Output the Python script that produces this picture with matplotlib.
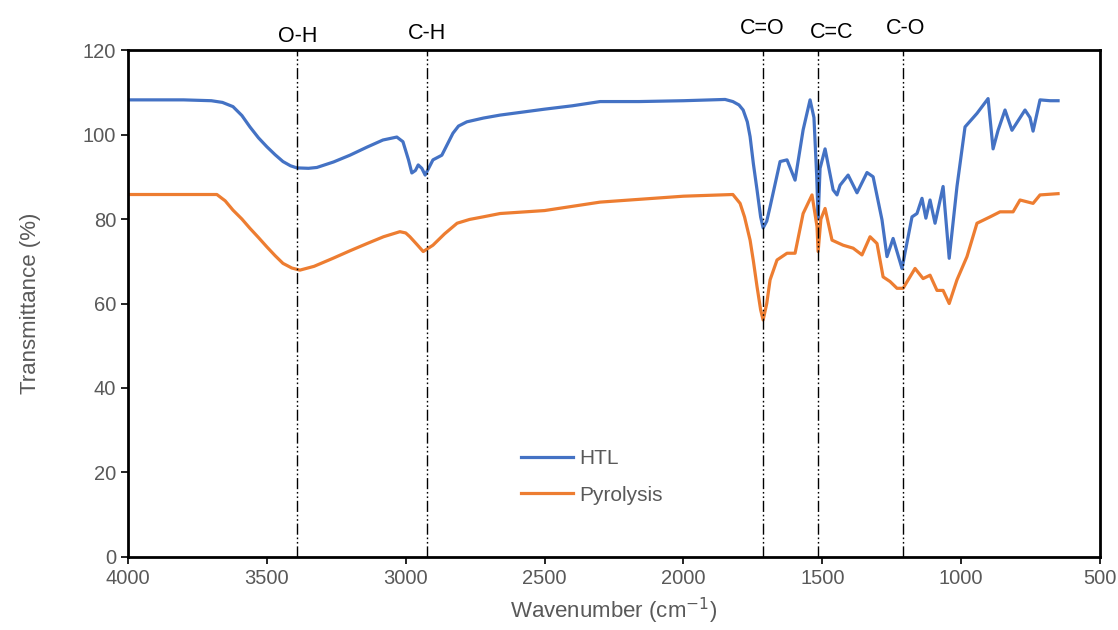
import matplotlib.pyplot as plt

plt.rcParams['font.family'] = ['Liberation Sans', 'DejaVu Sans']

# HTL spectrum (wavenumber, transmittance)
htl_wn = [4000, 3800, 3700, 3660, 3622, 3590, 3561, 3530, 3500, 3470, 3442,
          3415, 3392, 3350, 3320, 3260, 3201, 3140, 3082, 3032, 3010, 2990,
          2978, 2965, 2955, 2942, 2930, 2902, 2870, 2830, 2810, 2780, 2720,
          2660, 2580, 2500, 2400, 2300, 2160, 2000, 1850, 1822, 1800, 1785,
          1770, 1760, 1748, 1735, 1722, 1713, 1700, 1688, 1652, 1627, 1598,
          1569, 1544, 1530, 1520, 1515, 1508, 1490, 1461, 1447, 1436, 1407,
          1375, 1339, 1317, 1285, 1267, 1245, 1213, 1177, 1159, 1141, 1127,
          1112, 1094, 1065, 1043, 1015, 986, 943, 903, 885, 867, 842, 817,
          770, 752, 741, 716, 680, 651]
htl_t = [108.2, 108.2, 108.0, 107.6, 106.6, 104.5, 101.8, 99.2, 97.1, 95.2,
         93.6, 92.6, 92.1, 92.0, 92.2, 93.5, 95.1, 97.0, 98.7, 99.4, 98.3,
         94.0, 90.9, 91.5, 92.8, 92.0, 90.4, 94.0, 95.1, 100.3, 102.0, 103.0,
         103.9, 104.6, 105.3, 106.0, 106.8, 107.8, 107.8, 108.0, 108.3, 107.8,
         107.0, 105.8, 103.0, 99.5, 93.0, 86.9, 80.5, 77.9, 79.5, 82.9, 93.6,
         94.0, 89.2, 101.1, 108.2, 104.0, 90.0, 80.0, 92.0, 96.6, 86.9, 85.7,
         88.0, 90.4, 86.2, 91.0, 90.0, 79.8, 71.1, 75.4, 68.3, 80.5, 81.3,
         84.9, 80.2, 84.5, 79.0, 87.7, 70.7, 87.7, 101.8, 105.0, 108.5, 96.6,
         101.0, 105.8, 101.0, 105.8, 104.0, 100.8, 108.2, 108.0, 108.0]

# Pyrolysis spectrum
pyr_wn = [4000, 3680, 3650, 3622, 3590, 3561, 3530, 3500, 3470, 3442, 3410,
          3381, 3330, 3262, 3200, 3139, 3080, 3021, 3000, 2985, 2960, 2937,
          2902, 2860, 2815, 2770, 2722, 2660, 2500, 2300, 2000, 1822, 1796,
          1780, 1760, 1748, 1735, 1722, 1713, 1700, 1688, 1663, 1627, 1598,
          1569, 1537, 1519, 1515, 1505, 1490, 1465, 1425, 1389, 1357, 1328,
          1303, 1281, 1256, 1231, 1209, 1166, 1137, 1112, 1087, 1065, 1043,
          1015, 979, 943, 896, 860, 813, 788, 741, 716, 651]
pyr_t = [85.8, 85.8, 84.3, 82.1, 80.0, 77.8, 75.6, 73.4, 71.3, 69.5, 68.4,
         67.9, 68.8, 70.7, 72.5, 74.2, 75.8, 77.0, 76.7, 75.8, 74.0, 72.3,
         73.8, 76.5, 79.0, 79.9, 80.5, 81.3, 82.0, 84.0, 85.4, 85.8, 83.7,
         80.5, 75.0, 70.0, 64.0, 58.5, 56.1, 60.0, 65.6, 70.3, 71.9, 71.9,
         81.3, 85.7, 78.2, 72.3, 80.0, 82.5, 75.0, 73.8, 73.1, 71.5, 75.8,
         74.2, 66.3, 65.2, 63.6, 63.6, 68.3, 65.9, 66.7, 63.1, 63.1, 60.0,
         65.6, 71.1, 79.0, 80.5, 81.7, 81.7, 84.5, 83.7, 85.7, 86.0]

# functional group markers
groups = ['O-H', 'C-H', 'C=O', 'C=C', 'C-O']
group_wn = [3390, 2925, 1715, 1515, 1210]
label_wn = [3390, 2925, 1715, 1465, 1200]
label_y = [123.3, 124.0, 125.0, 124.2, 125.0]

grey = '#595959'

fig = plt.figure(figsize=(11.18, 6.3), dpi=100)
ax = fig.add_axes([0.1145, 0.1159, 0.8694, 0.8047])

ax.plot(htl_wn, htl_t, color='#4472C4', lw=2.3, label='HTL')
ax.plot(pyr_wn, pyr_t, color='#ED7D31', lw=2.3, label='Pyrolysis')

for name, wn, lx, ly in zip(groups, group_wn, label_wn, label_y):
    ax.plot([wn, wn], [0, 120], color='black', lw=1.0,
            dashes=(8, 2, 1.2, 2, 1.2, 2))
    ax.text(lx, ly, name, ha='center', va='center', fontsize=15.5,
            color='black', clip_on=False)

ax.set_xlim(4000, 500)
ax.set_ylim(0, 120)
ax.set_xticks(range(4000, 499, -500))
ax.set_yticks(range(0, 121, 20))
ax.tick_params(labelsize=14.5, colors=grey, length=5, width=1.2,
               direction='out')
ax.tick_params(axis='both', color='black')
for s in ax.spines.values():
    s.set_linewidth(2.0)
    s.set_color('black')

ax.set_xlabel('Wavenumber (cm$^{-1}$)', fontsize=16, color=grey, labelpad=6)
ax.set_ylabel('Transmittance (%)', fontsize=16, color=grey, labelpad=30)

leg = ax.legend(loc='upper left', bbox_to_anchor=(0.385, 0.25), frameon=False,
                fontsize=15, handlelength=2.5, handletextpad=0.3,
                labelspacing=0.85)
for t in leg.get_texts():
    t.set_color(grey)

fig.savefig('out.png', dpi=100)
